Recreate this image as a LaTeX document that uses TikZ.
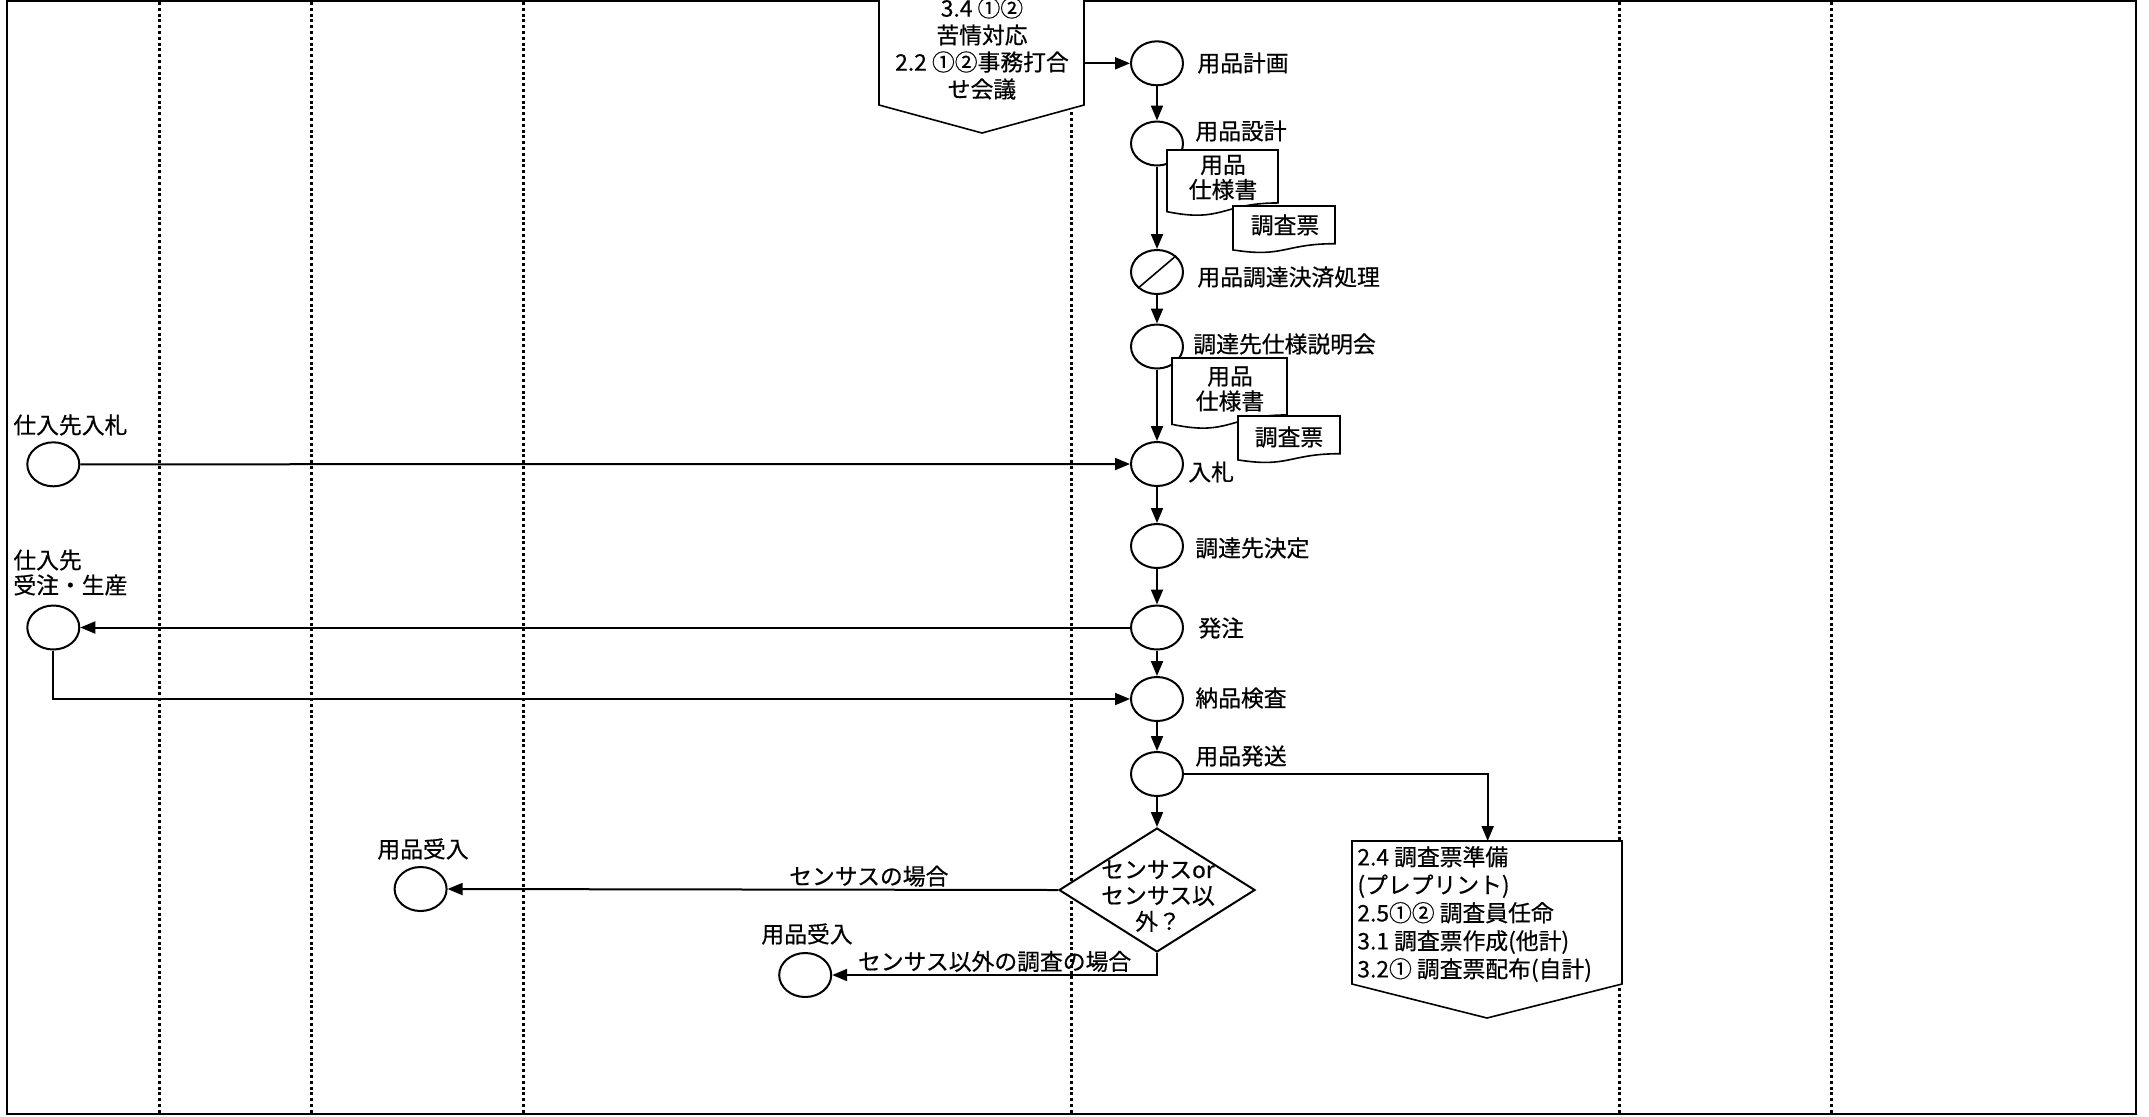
\documentclass[tikz,border=0pt]{standalone}
\usepackage{fontspec}
\setmainfont{Noto Sans CJK JP}[FakeBold=0.5]
\usetikzlibrary{shapes.geometric, arrows.meta}

\begin{document}
\begin{tikzpicture}[
    x=0.5pt, y=-0.5pt,
    font=\fontsize{11.4}{13.5}\selectfont,
    proc/.style={ellipse, draw, fill=white, line width=1pt, minimum width=26pt, minimum height=22pt, inner sep=0pt},
    txt/.style={anchor=west, inner sep=0pt},
    flow/.style={draw, line width=1pt, ->},
    docbox/.style={draw, fill=white, line width=0.8pt},
    pagebox/.style={draw, fill=white, line width=0.8pt},
    lane/.style={line width=1.5pt, dash pattern=on 1.5pt off 1.4pt},
    >={Triangle[length=7.5pt, width=6pt]}
]
\useasboundingbox (0,0) rectangle (2149,1116);
\clip (0,0) rectangle (2149,1116);

% 1. Frame and swim lanes
\draw[line width=1.2pt] (7,1.2) rectangle (2136,1114);
\foreach \lx in {159, 311, 523.5, 1071.6, 1619.8, 1831}
    \draw[lane] (\lx,2) -- (\lx,1113);

% 2. Off-page boxes
\filldraw[pagebox] (879,-10) -- (1084,-10) -- (1084,105) -- (982,133) -- (879,105) -- cycle;
\node[align=center, inner sep=0pt] (mtg) at (982,48.5) {3.4 ①②\\苦情対応\\2.2 ①②事務打合\\せ会議};
\coordinate (mtgout) at (1084,63.3);

\filldraw[pagebox] (1352,841) -- (1622,841) -- (1622,984) -- (1487,1018) -- (1352,984) -- cycle;
\node[txt, align=left, font=\fontsize{11.4}{14}\selectfont] (prep) at (1357,914)
    {2.4 調査票準備\\(プレプリント)\\2.5①② 調査員任命\\3.1 調査票作成(他計)\\3.2① 調査票配布(自計)};
\coordinate (prepin) at (1487.7,841);

% 3. Main column
\node[proc] (plan) at (1157,63.3) {};
\node[proc] (design) at (1157,143.5) {};
\node[proc] (settle) at (1157,272) {};
\draw[line width=0.8pt] (settle.south west) -- (settle.north east);
\node[proc] (brief) at (1157,346.5) {};
\node[proc] (bid) at (1157,464) {};
\node[proc] (select) at (1157,546) {};
\node[proc] (order) at (1157,627.5) {};
\node[proc] (inspect) at (1157,699) {};
\node[proc] (ship) at (1157,774) {};
\node[diamond, draw, fill=white, line width=1pt, minimum width=98pt, minimum height=62pt, inner sep=0pt] (branch) at (1157,890) {};
\node[align=center, inner sep=0pt, font=\fontsize{11.4}{13}\selectfont] (branchtxt) at (1158,896) {センサスor\\センサス以\\外？};

\node[txt] (plan-l) at (1197,63) {用品計画};
\node[txt] (design-l) at (1195,131) {用品設計};
\node[txt] (settle-l) at (1197,277) {用品調達決済処理};
\node[txt] (brief-l) at (1193,344) {調達先仕様説明会};
\node[txt] (bid-l) at (1188,472) {入札};
\node[txt] (select-l) at (1195,548) {調達先決定};
\node[txt] (order-l) at (1198,628) {発注};
\node[txt] (inspect-l) at (1195,698) {納品検査};
\node[txt] (ship-l) at (1195,756) {用品発送};

% 4. Suppliers and receivers
\node[proc] (supbid) at (53.3,464.3) {};
\node[txt] (supbid-l) at (13,425) {仕入先入札};
\node[proc] (supprod) at (53.3,627.5) {};
\node[txt, align=left, font=\fontsize{11.4}{12.5}\selectfont] (supprod-l) at (13,572.5) {仕入先\\受注・生産};
\node[proc] (recv1) at (420.6,889) {};
\node[txt] (recv1-l) at (377,849) {用品受入};
\node[proc] (recv2) at (805.2,975) {};
\node[txt] (recv2-l) at (761,934) {用品受入};

% 5. Connectors
\draw[flow] (mtgout) -- (plan.west);
\draw[flow] (plan) -- (design);
\draw[flow] (design) -- (settle);
\draw[flow] (settle) -- (brief);
\draw[flow] (brief) -- (bid);
\draw[flow] (bid) -- (select);
\draw[flow] (select) -- (order);
\draw[flow] (order) -- (inspect);
\draw[flow] (inspect) -- (ship);
\draw[flow] (ship) -- (branch);
\draw[flow] (supbid) -- (bid);
\draw[flow] (order) -- (supprod);
\draw[flow] (supprod.south) |- (inspect.west);
\draw[flow] (ship.east) -| (prepin);
\draw[flow] (branch.west) -- (recv1.east)
    node[pos=0.31, above=1pt, inner sep=0pt] (census-l) {センサスの場合};
\draw[flow] (branch.south) |- (recv2.east)
    node[pos=0.75, above=1pt, inner sep=0pt] (other-l) {センサス以外の調査の場合};

% 6. Documents
\foreach \docx/\docy/\docw/\doch in {1167/150/111/66, 1233/206/102/47, 1172/358/115/71, 1238/416/102/47}
    \filldraw[docbox, shift={(\docx,\docy)}] (0,0) -- (\docw,0) -- (\docw,{0.802*\doch})
        .. controls ({0.5*\docw},{0.802*\doch}) and ({0.5*\docw},{1.1075*\doch}) .. (0,{0.934*\doch}) -- cycle;
\node[align=center, inner sep=0pt, font=\fontsize{11.4}{12.5}\selectfont] (spec1) at (1223,177.5) {用品\\仕様書};
\node[inner sep=0pt] (sheet1) at (1285,225) {調査票};
\node[align=center, inner sep=0pt, font=\fontsize{11.4}{12.5}\selectfont] (spec2) at (1230,389) {用品\\仕様書};
\node[inner sep=0pt] (sheet2) at (1289,437) {調査票};

\end{tikzpicture}
\end{document}
